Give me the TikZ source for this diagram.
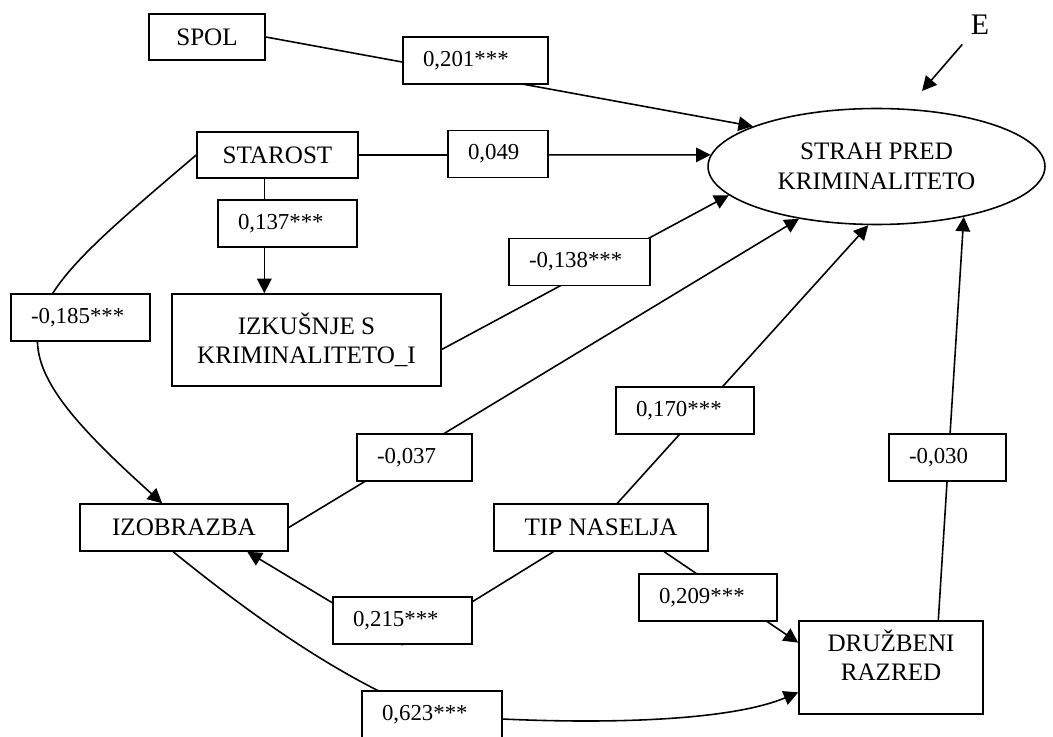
\documentclass[tikz,border=0pt]{standalone}
\usepackage{fontspec}
\setmainfont{Liberation Serif}
\usetikzlibrary{arrows.meta,backgrounds,shapes.geometric}
\newcommand\namefont{\fontsize{14.3}{16.8}\selectfont}
\newcommand\numfont{\fontsize{13}{15}\selectfont}
\begin{document}
\begin{tikzpicture}[x=0.02cm,y=-0.02cm,
    var/.style={draw, line width=0.9pt, font=\namefont, align=center},
    coef/.style={draw, fill=white, line width=0.9pt, font=\numfont,
      minimum height=0.94cm, inner xsep=0.4cm, text width=#1, align=left},
    arr/.style={line width=0.9pt, line join=round, -{Triangle[length=0.29cm,width=0.29cm]}}]
  \useasboundingbox (0,0) rectangle (1053,736);

  \node [var, minimum width=2.32cm, minimum height=0.92cm] (spol) at (207,37) {SPOL};
  \node [var, minimum width=3.22cm, minimum height=0.92cm] (starost) at (277.5,155) {STAROST};
  \node [var, minimum width=5.38cm, minimum height=1.84cm] (izk) at (306.5,340) {IZKUŠNJE S\\KRIMINALITETO\_I};
  \node [var, minimum width=4.16cm, minimum height=0.94cm] (izo) at (184,527.5) {IZOBRAZBA};
  \node [var, minimum width=4.28cm, minimum height=0.94cm] (tip) at (601,527.5) {TIP NASELJA};
  \node [var, minimum width=3.68cm, minimum height=1.86cm, text depth=0.5cm] (druz) at (891,667.5) {DRUŽBENI\\RAZRED};
  \node [var, ellipse, minimum width=6.74cm, minimum height=2.32cm, inner sep=0pt] (strah) at (876.5,166.5) {STRAH PRED\\KRIMINALITETO};
  \node [font=\fontsize{17}{20}\selectfont, inner sep=1pt] (elbl) at (980,25) {E};
  \coordinate (etip) at (922,91);

  \node [coef=2.1cm] (e201) at (475.5,60.5) {0,201***};
  \node [coef=1.2cm] (e049) at (498,154) {0,049};
  \node [coef=1.98cm] (e137) at (287.5,223.5) {0,137***};
  \node [coef=1.98cm] (e185) at (80.5,317.5) {-0,185***};
  \node [coef=2.02cm] (e138) at (579.5,262) {-0,138***};
  \node [coef=1.5cm] (e037) at (414.5,457.5) {-0,037};
  \node [coef=1.96cm] (e170) at (685,410.5) {0,170***};
  \node [coef=1.54cm] (e030) at (947.5,457.5) {-0,030};
  \node [coef=1.98cm] (e215) at (402.5,620.5) {0,215***};
  \node [coef=1.96cm] (e209) at (708,597.5) {0,209***};
  \node [coef=2.0cm] (e623) at (432,714.5) {0,623***};

  \begin{scope}[on background layer]
    \draw [arr] (spol.east) -- (strah.162);
    \draw [arr] (starost.east) -- (strah.176);
    \draw [arr] (starost.241) -- (starost.241 |- izk.north);
    \draw [arr] (izk.-4) -- (strah.191);
    \draw [arr] (izo.east) -- (strah.214);
    \draw [arr] (tip.56) -- (strah.262);
    \draw [arr] (druz.45) -- (strah.-30);
    \draw [arr] (tip.-21) -- (druz.165);
    \draw [arr] (tip.207) -- (e215.south) -- (izo.-21);
    \draw [arr] (starost.west) .. controls (11,313) and (-23,337) .. (izo.132);
    \draw [arr] (izo.246) .. controls (245,610) and (340,680) .. (e623.center)
      .. controls (560,725) and (720,725) .. (druz.195);
    \draw [arr, shorten <=0.2cm] (elbl.south west) -- (etip);
  \end{scope}
\end{tikzpicture}
\end{document}
